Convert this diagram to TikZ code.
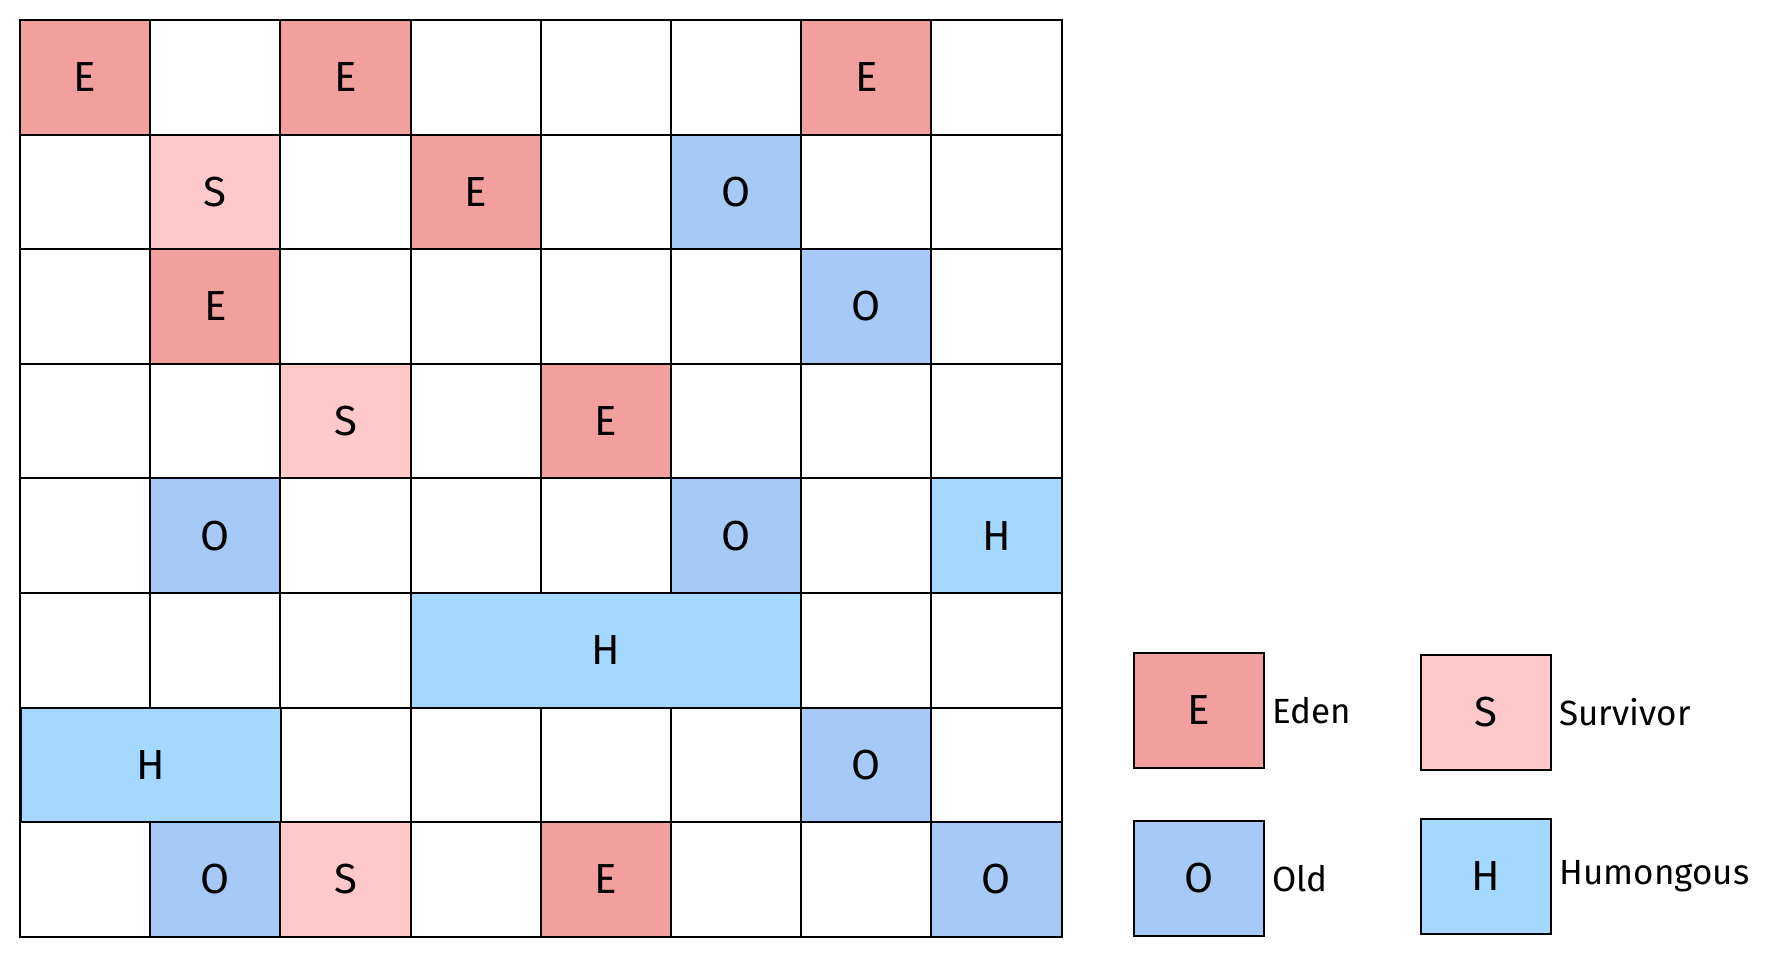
\documentclass[tikz,border=0pt]{standalone}
\usepackage{fontspec}
\setmainfont{Fira Sans}
\usetikzlibrary{positioning}
\definecolor{edenred}{RGB}{242,160,158}
\definecolor{survpink}{RGB}{255,201,201}
\definecolor{oldblue}{RGB}{166,201,248}
\definecolor{humblue}{RGB}{165,216,255}
\begin{document}
\begin{tikzpicture}[x=0.5pt,y=-0.5pt,
        cell/.style={draw=black, line width=1pt, fill=white, inner sep=0pt,
            minimum width=65.1pt, minimum height=57.3pt,
            font=\fontsize{21}{21}\selectfont},
        eden/.style={fill=edenred},
        surv/.style={fill=survpink},
        old/.style={fill=oldblue},
        hum/.style={fill=humblue},
        keylabel/.style={font=\fontsize{17.5}{17.5}\selectfont, inner sep=0pt}]
    \useasboundingbox (0,0) rectangle (1777,956);
    % empty grid
    \foreach \r in {1,...,8}
        \foreach \c in {1,...,8}
            \node[cell] (c\r\c) at ({20+130.2*(\c-0.5)},{20+114.6*(\r-0.5)}) {};
    % regions
    \foreach \r/\c/\kind/\t in {1/1/eden/E, 1/3/eden/E, 1/7/eden/E,
            2/2/surv/S, 2/4/eden/E, 2/6/old/O,
            3/2/eden/E, 3/7/old/O,
            4/3/surv/S, 4/5/eden/E,
            5/2/old/O, 5/6/old/O, 5/8/hum/H,
            7/7/old/O,
            8/2/old/O, 8/3/surv/S, 8/5/eden/E, 8/8/old/O}
        \node[cell, \kind] at (c\r\c) {\t};
    \node[cell, hum, minimum width=195.3pt] (h6) at (c65) {H};
    \node[cell, hum, minimum width=130.2pt] (h7) at (c71.east) {H};
    % legend
    \node[cell, eden] (keyE) at (1199,710.5) {E};
    \node[cell, surv] (keyS) at (1486,712.5) {S};
    \node[cell, old] (keyO) at (1199,878.5) {O};
    \node[cell, hum] (keyH) at (1486,876.5) {H};
    \node[keylabel, right=3.5pt of keyE] {Eden};
    \node[keylabel, right=3.5pt of keyS] {Survivor};
    \node[keylabel, right=3.5pt of keyO] {Old};
    \node[keylabel, right=3.5pt of keyH] {Humongous};
\end{tikzpicture}
\end{document}
